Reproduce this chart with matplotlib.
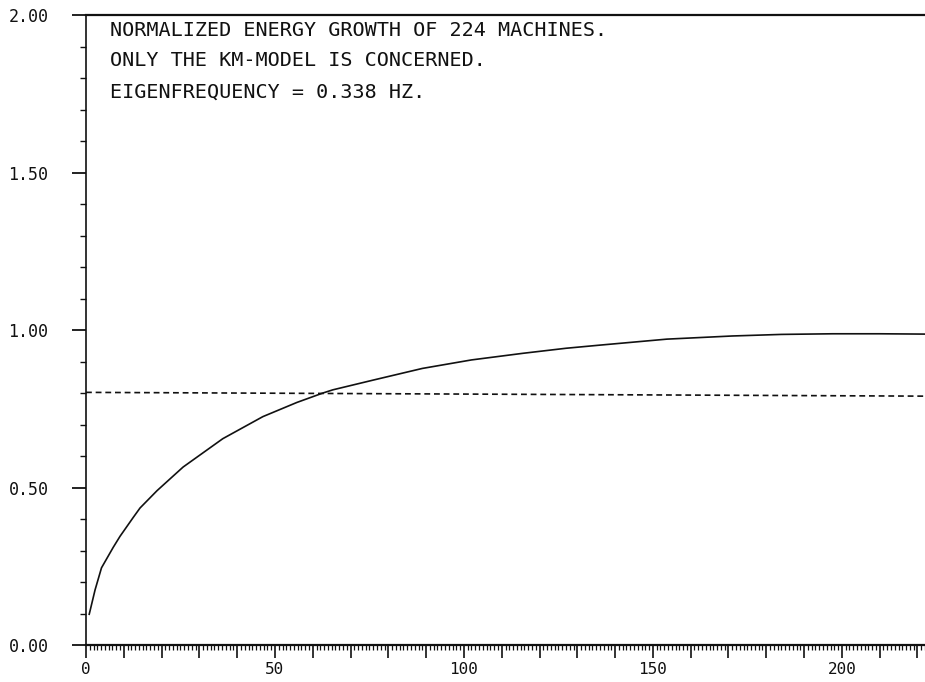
import matplotlib
matplotlib.use("Agg")
import matplotlib.pyplot as plt
from matplotlib.ticker import MultipleLocator, FuncFormatter

# Data
energy_x = [0.8, 2.4, 4.1, 7.2, 9.0, 12.5, 14.3, 18.8, 22.2, 25.7, 36.2, 46.8,
            55.8, 62.7, 65.3, 76.0, 89.0, 102.0, 115.6, 127.0, 136.0, 153.7,
            171.0, 184.0, 197.6, 210.0, 222.0]
energy_y = [0.095, 0.175, 0.245, 0.310, 0.345, 0.405, 0.435, 0.490, 0.527,
            0.565, 0.655, 0.725, 0.770, 0.800, 0.810, 0.841, 0.878, 0.905,
            0.926, 0.942, 0.952, 0.971, 0.981, 0.986, 0.988, 0.988, 0.987]
threshold_x = [0.0, 222.0]
threshold_y = [0.802, 0.790]
annotation_lines = ["NORMALIZED ENERGY GROWTH OF 224 MACHINES.",
                    "ONLY THE KM-MODEL IS CONCERNED.",
                    "EIGENFREQUENCY = 0.338 HZ."]
x_label_ticks = [0, 50, 100, 150, 200]

FONT = "DejaVu Sans Mono"
INK = "#111111"

fig = plt.figure(figsize=(9.25, 6.82), dpi=100)
ax = fig.add_axes([86 / 925, 1 - 645 / 682, 1 - 86 / 925, (645 - 15) / 682])

ax.plot(energy_x, energy_y, color=INK, lw=1.2, solid_capstyle="butt",
        solid_joinstyle="round")
ax.plot(threshold_x, threshold_y, color=INK, lw=1.2, linestyle=(0, (3.5, 2.3)))

ax.set_xlim(0, 222)
ax.set_ylim(0, 2.0)

ax.spines["right"].set_visible(False)
ax.spines["top"].set_linewidth(1.6)
ax.spines["bottom"].set_linewidth(1.6)
ax.spines["left"].set_linewidth(1.2)
for s in ax.spines.values():
    s.set_color(INK)

ax.xaxis.set_major_locator(MultipleLocator(10))
ax.xaxis.set_minor_locator(MultipleLocator(1))
ax.xaxis.set_major_formatter(FuncFormatter(
    lambda v, p: f"{int(round(v))}" if int(round(v)) in x_label_ticks else ""))
ax.yaxis.set_major_locator(MultipleLocator(0.5))
ax.yaxis.set_minor_locator(MultipleLocator(0.1))
ax.yaxis.set_major_formatter(FuncFormatter(lambda v, p: f"{v:.2f}"))

ax.tick_params(axis="x", which="major", direction="out", length=9, width=1.2,
               pad=3, labelsize=11.5, colors=INK)
ax.tick_params(axis="x", which="minor", direction="out", length=3.5, width=0.9,
               colors=INK)
ax.tick_params(axis="y", which="major", direction="out", length=10, width=1.3,
               pad=17, labelsize=12, colors=INK)
ax.tick_params(axis="y", which="minor", direction="out", length=4, width=1.0,
               colors=INK)
for lab in ax.get_xticklabels() + ax.get_yticklabels():
    lab.set_fontfamily(FONT)

for i, line in enumerate(annotation_lines):
    fig.text(110 / 925, 1 - (30 + 31 * i) / 682, line, family=FONT,
             fontsize=14.5, color=INK, va="center", ha="left")

fig.savefig("out.png", dpi=100, facecolor="white")
